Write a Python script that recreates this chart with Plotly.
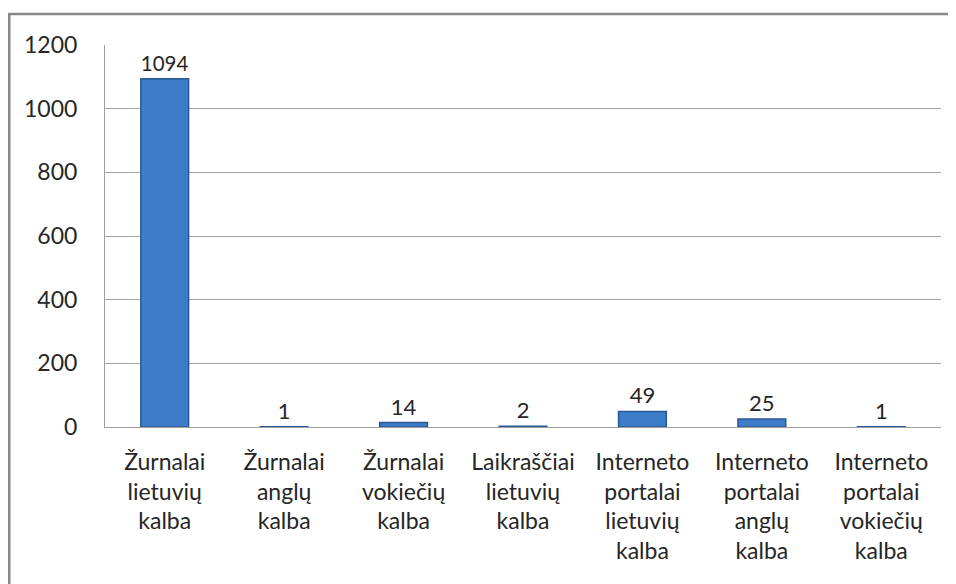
import plotly.graph_objects as go

# Publication counts by source type and language
categories = [
    "Žurnalai<br>lietuvių<br>kalba",
    "Žurnalai<br>anglų<br>kalba",
    "Žurnalai<br>vokiečių<br>kalba",
    "Laikraščiai<br>lietuvių<br>kalba",
    "Interneto<br>portalai<br>lietuvių<br>kalba",
    "Interneto<br>portalai<br>anglų<br>kalba",
    "Interneto<br>portalai<br>vokiečių<br>kalba",
]
counts = [1094, 1, 14, 2, 49, 25, 1]
y_ticks = [0, 200, 400, 600, 800, 1000, 1200]

font = "Lato, 'Open Sans', sans-serif"

fig = go.Figure()
fig.add_trace(
    go.Bar(
        x=categories,
        y=counts,
        text=[str(c) for c in counts],
        textposition="outside",
        textfont=dict(size=22, color="#262626", family=font),
        cliponaxis=False,
        marker=dict(color="#3D7CC9", line=dict(color="#2A5894", width=1.5)),
        width=0.4,
    )
)

# page body adds an 8px offset, so the figure is sized to fill the rest
fig.update_layout(
    width=948,
    height=576,
    margin=dict(l=97, r=15, t=37, b=157),
    paper_bgcolor="white",
    plot_bgcolor="white",
    showlegend=False,
    font=dict(family=font, size=23, color="#262626"),
    shapes=[
        dict(
            type="rect", xref="paper", yref="paper",
            x0=-0.1145, x1=1.1, y0=-0.6, y1=1.081,
            line=dict(color="#888888", width=2.5),
            fillcolor="rgba(0,0,0,0)", layer="below",
        )
    ],
)
fig.update_xaxes(
    showline=True, linecolor="#A0A0A0", linewidth=1,
    ticks="", tickangle=0, tickfont=dict(size=23),
    ticklabelstandoff=14,
)
fig.update_yaxes(
    range=[0, 1200], tickvals=y_ticks,
    showgrid=True, gridcolor="#A6A6A6", gridwidth=1,
    showline=True, linecolor="#A0A0A0", linewidth=1,
    zeroline=False, ticks="", ticklabelstandoff=22,
    tickfont=dict(size=23),
)

fig.write_html("out.html")
